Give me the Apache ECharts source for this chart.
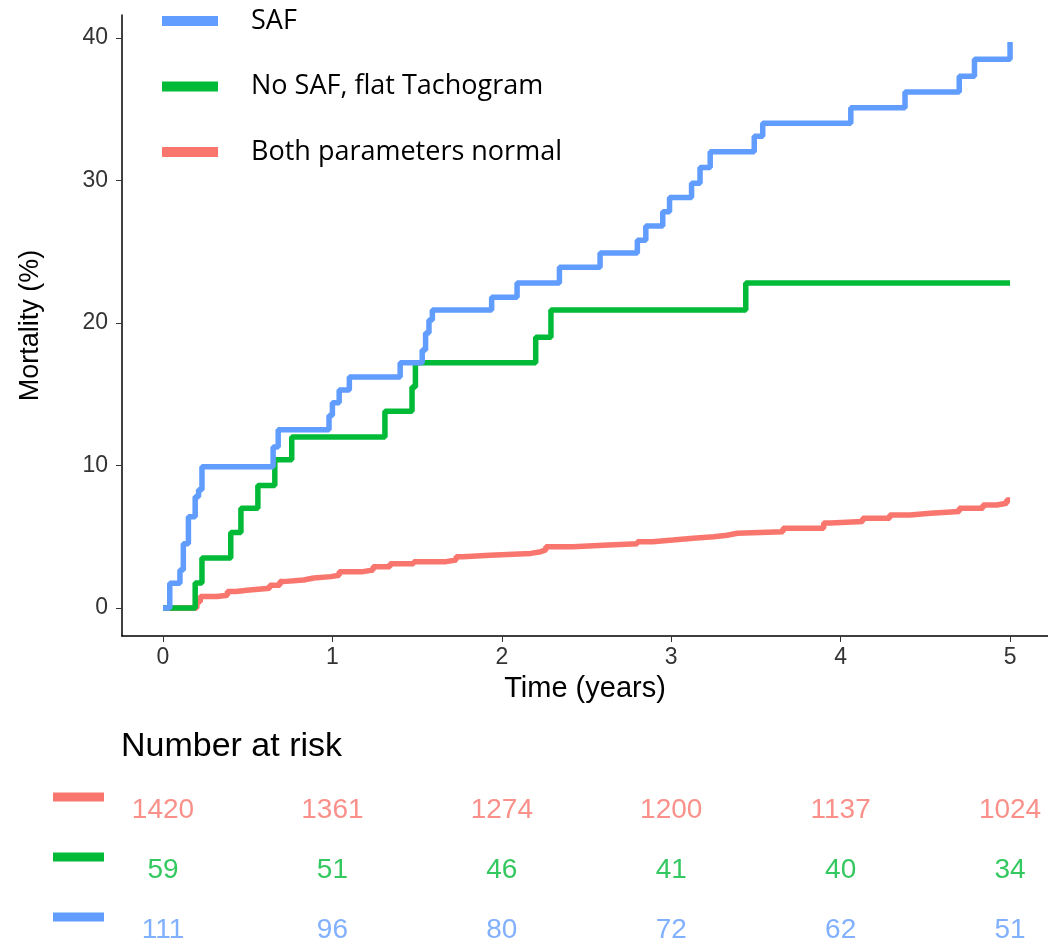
<!DOCTYPE html>
<html>
<head>
<meta charset="utf-8">
<script src="https://cdn.jsdelivr.net/npm/echarts@6/dist/echarts.min.js"></script>
<style>
  html, body { margin: 0; padding: 0; background: #fff; }
  #chart { width: 1048px; height: 945px; }
</style>
</head>
<body>
<div id="chart"></div>
<script>
/* Kaplan-Meier style mortality curves + number at risk table */

// SAF group: [time in years, cumulative mortality %]
var safTimes  = [0, 0.04, 0.10, 0.12, 0.15, 0.19, 0.21, 0.23, 0.65, 0.68, 0.98, 1.00, 1.04, 1.10, 1.40, 1.53, 1.55, 1.57, 1.59, 1.94, 2.09, 2.34, 2.58, 2.80, 2.85, 2.95, 2.99, 3.12, 3.17, 3.23, 3.49, 3.54, 4.06, 4.38, 4.70, 4.79, 5.00];
var safVals   = [0, 1.73, 2.67, 4.5, 6.4, 7.8, 8.3, 9.9, 11.3, 12.5, 13.5, 14.4, 15.3, 16.2, 17.2, 18.1, 19.3, 20.2, 20.9, 21.8, 22.8, 23.9, 24.9, 25.8, 26.8, 27.8, 28.8, 29.8, 30.9, 32.0, 33.1, 34.0, 35.1, 36.2, 37.3, 38.5, 39.7];

// No SAF, flat tachogram
var flatTimes = [0, 0.19, 0.23, 0.40, 0.46, 0.56, 0.66, 0.76, 1.31, 1.47, 1.49, 2.20, 2.29, 3.44, 5.00];
var flatVals  = [0, 1.75, 3.5, 5.3, 7.0, 8.6, 10.4, 12.0, 13.8, 15.5, 17.2, 19.0, 20.9, 22.8, 22.8];

// Both parameters normal
var normTimes = [0, 0.20, 0.22, 0.32, 0.38, 0.43, 0.51, 0.63, 0.69, 0.71, 0.83, 0.89, 0.99, 1.04, 1.18, 1.24, 1.34, 1.48, 1.67, 1.73, 1.77, 1.93, 2.17, 2.23, 2.26, 2.42, 2.60, 2.80, 2.89, 3.01, 3.13, 3.25, 3.33, 3.39, 3.66, 3.90, 3.94, 4.13, 4.29, 4.41, 4.53, 4.70, 4.84, 4.92, 4.98, 5.00];
var normVals  = [0, 0.44, 0.8, 0.9, 1.15, 1.26, 1.38, 1.6, 1.85, 1.96, 2.1, 2.2, 2.3, 2.55, 2.67, 2.9, 3.1, 3.25, 3.37, 3.6, 3.7, 3.83, 3.95, 4.07, 4.3, 4.4, 4.5, 4.65, 4.77, 4.9, 5.0, 5.1, 5.24, 5.35, 5.6, 5.96, 6.07, 6.3, 6.53, 6.65, 6.77, 7.0, 7.23, 7.35, 7.58, 7.58];

// number at risk
var riskTimes  = [0, 1, 2, 3, 4, 5];
var riskNormal = [1420, 1361, 1274, 1200, 1137, 1024];
var riskFlat   = [59, 51, 46, 41, 40, 34];
var riskSaf    = [111, 96, 80, 72, 62, 51];

var xTicks = [0, 1, 2, 3, 4, 5];
var yTicks = [0, 10, 20, 30, 40];

var groupNames = ['SAF', 'No SAF, flat Tachogram', 'Both parameters normal'];
var riskRows = ['Both parameters normal', 'No SAF, flat Tachogram', 'SAF'];

var RED = '#F8766D', GREEN = '#00BA38', BLUE = '#619CFF';
var FONT = 'Liberation Sans, Arial, sans-serif';

function zip(t, v) {
    return t.map(function(x, i){ return [x, v[i]]; });
}
function riskData(row, counts) {
    return riskTimes.map(function(t, i){ return [t, row, counts[i]]; });
}
function riskSeries(row, counts, color) {
    return {
        type: 'scatter',
        xAxisIndex: 1,
        yAxisIndex: 1,
        symbolSize: 1,
        itemStyle: { color: 'rgba(0,0,0,0)' },
        label: {
            show: true,
            position: 'inside',
            formatter: function(p){ return p.value[2]; },
            color: color,
            fontFamily: FONT,
            fontSize: 28
        },
        data: riskData(row, counts)
    };
}

var myChart = echarts.init(document.getElementById('chart'));
var option = {
    animation: false,
    backgroundColor: '#fff',
    title: {
        text: 'Number at risk',
        left: 121,
        top: 730,
        padding: 0,
        textStyle: { fontFamily: FONT, fontSize: 34, fontWeight: 'normal', color: '#000' }
    },
    legend: {
        orient: 'vertical',
        left: 162,
        top: 6,
        padding: 0,
        icon: 'rect',
        itemWidth: 56,
        itemHeight: 10,
        itemGap: 35.5,
        data: groupNames,
        textStyle: {
            fontFamily: 'Open Sans',
            fontSize: 27,
            color: '#000',
            lineHeight: 30,
            padding: [0, 0, 0, 28]
        }
    },
    grid: [
        { left: 122, right: 0, top: 15, height: 621 },
        { left: 122, right: 0, top: 810, height: 120 }
    ],
    xAxis: [
        {
            type: 'value',
            gridIndex: 0,
            min: -0.242,
            max: 5.224,
            name: 'Time (years)',
            nameLocation: 'middle',
            nameGap: 38,
            nameTextStyle: { fontFamily: FONT, fontSize: 29, color: '#000' },
            axisLine: { onZero: false, lineStyle: { color: '#000', width: 1.5 } },
            axisTick: { customValues: xTicks, length: 6, lineStyle: { color: '#333' } },
            axisLabel: { customValues: xTicks, margin: 10, fontFamily: FONT, fontSize: 23, color: '#333' },
            splitLine: { show: false }
        },
        {
            type: 'value',
            gridIndex: 1,
            min: -0.242,
            max: 5.224,
            show: false
        }
    ],
    yAxis: [
        {
            type: 'value',
            gridIndex: 0,
            min: -1.965,
            max: 41.6,
            name: 'Mortality (%)',
            nameLocation: 'middle',
            nameRotate: 90,
            nameGap: 78,
            nameTextStyle: { fontFamily: FONT, fontSize: 27, color: '#000' },
            axisLine: { show: true, onZero: false, lineStyle: { color: '#000', width: 1.5 } },
            axisTick: { show: true, customValues: yTicks, length: 6, lineStyle: { color: '#333' } },
            axisLabel: { customValues: yTicks, margin: 14, fontFamily: FONT, fontSize: 23, color: '#333' },
            splitLine: { show: false }
        },
        {
            type: 'category',
            gridIndex: 1,
            inverse: true,
            boundaryGap: false,
            data: riskRows,
            axisLine: { show: false },
            axisTick: { show: false },
            axisLabel: {
                margin: 18,
                padding: [0, 0, 26, 0],
                formatter: function(v, i){ return ['{r|}', '{g|}', '{b|}'][i]; },
                rich: {
                    r: { width: 51, height: 9, backgroundColor: RED },
                    g: { width: 51, height: 9, backgroundColor: GREEN },
                    b: { width: 51, height: 9, backgroundColor: BLUE }
                }
            }
        }
    ],
    series: [
        {
            name: 'Both parameters normal',
            type: 'line',
            step: 'end',
            symbol: 'none',
            color: RED,
            lineStyle: { width: 5.5, color: RED },
            data: zip(normTimes, normVals)
        },
        {
            name: 'No SAF, flat Tachogram',
            type: 'line',
            step: 'end',
            symbol: 'none',
            color: GREEN,
            lineStyle: { width: 5.5, color: GREEN },
            data: zip(flatTimes, flatVals)
        },
        {
            name: 'SAF',
            type: 'line',
            step: 'end',
            symbol: 'none',
            color: BLUE,
            lineStyle: { width: 5.5, color: BLUE },
            data: zip(safTimes, safVals)
        },
        riskSeries(riskRows[0], riskNormal, RED),
        riskSeries(riskRows[1], riskFlat, GREEN),
        riskSeries(riskRows[2], riskSaf, BLUE)
    ]
};
myChart.setOption(option);
</script>
</body>
</html>
